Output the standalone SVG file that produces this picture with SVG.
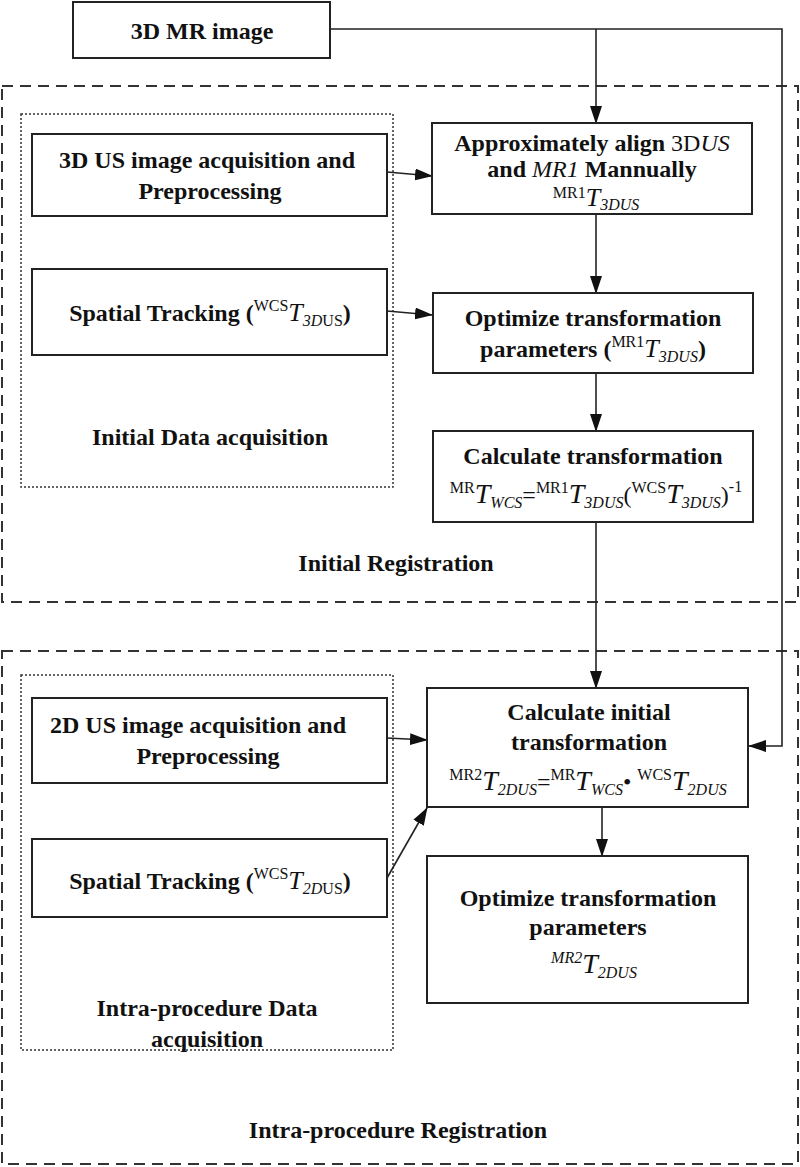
<svg xmlns="http://www.w3.org/2000/svg" width="800" height="1167" viewBox="0 0 800 1167">
<defs>
<marker id="arr" markerWidth="18" markerHeight="12" refX="17" refY="6" orient="auto" markerUnits="userSpaceOnUse">
<path d="M0,0 L18,6 L0,12 Z" fill="#111"/>
</marker>
<style>
.box{fill:#fff;stroke:#222;stroke-width:2}
.dash{fill:none;stroke:#333;stroke-width:2;stroke-dasharray:11 7}
.dot{fill:none;stroke:#333;stroke-width:1.5;stroke-dasharray:2 2}
.ln{fill:none;stroke:#222;stroke-width:1.6}
text{font-family:"Liberation Serif","Times New Roman",serif;fill:#111}
.b{font-weight:bold;font-size:24px}
.n{font-weight:normal}
.i{font-style:italic;font-weight:normal}
.sm{font-size:16px}
.T{font-size:28px}
</style>
</defs>
<rect width="800" height="1167" fill="#fff"/>

<g id="group-initial-registration">
<rect class="dash" x="2" y="86" width="796" height="516"/>
<text class="b" x="396" y="571" text-anchor="middle">Initial Registration</text>
</g>
<g id="group-initial-data">
<rect class="dot" x="21" y="114" width="372" height="373"/>
<text class="b" x="210" y="445" text-anchor="middle">Initial Data acquisition</text>
</g>
<g id="group-intra-registration">
<rect class="dash" x="2" y="651" width="796" height="513"/>
<text class="b" x="398" y="1138" text-anchor="middle">Intra-procedure Registration</text>
</g>
<g id="group-intra-data">
<rect class="dot" x="21" y="675" width="372" height="375"/>
<text class="b" x="207" y="1016" text-anchor="middle">Intra-procedure Data</text>
<text class="b" x="207" y="1047" text-anchor="middle">acquisition</text>
</g>

<g id="connectors">
<polyline class="ln" points="330,29 782,29 782,746 749,746" marker-end="url(#arr)"/>
<line class="ln" x1="596" y1="29" x2="596" y2="123" marker-end="url(#arr)"/>
<line class="ln" x1="387" y1="172" x2="432" y2="176" marker-end="url(#arr)"/>
<line class="ln" x1="387" y1="311" x2="432" y2="315" marker-end="url(#arr)"/>
<line class="ln" x1="596" y1="214" x2="596" y2="293" marker-end="url(#arr)"/>
<line class="ln" x1="596" y1="373" x2="596" y2="431" marker-end="url(#arr)"/>
<line class="ln" x1="596" y1="522" x2="596" y2="688" marker-end="url(#arr)"/>
<line class="ln" x1="387" y1="738" x2="427" y2="740" marker-end="url(#arr)"/>
<line class="ln" x1="387" y1="878" x2="427" y2="808" marker-end="url(#arr)"/>
<line class="ln" x1="602" y1="807" x2="602" y2="856" marker-end="url(#arr)"/>
</g>

<g id="node-3d-mr">
<rect class="box" x="73" y="2" width="257" height="56"/>
<text class="b" x="202" y="39" text-anchor="middle">3D MR image</text>
</g>

<g id="node-3d-us">
<rect class="box" x="32" y="134" width="355" height="82"/>
<text class="b" x="207" y="168" text-anchor="middle">3D US image acquisition and</text>
<text class="b" x="210" y="199" text-anchor="middle">Preprocessing</text>
</g>

<g id="node-spatial-1">
<rect class="box" x="32" y="269" width="355" height="86"/>
<text class="b" x="210" y="321" text-anchor="middle">Spatial Tracking (<tspan class="n sm" dy="-10">WCS</tspan><tspan class="i" font-size="26" dy="10">T</tspan><tspan class="i sm" dy="5">3D</tspan><tspan class="n sm">US</tspan><tspan dy="-5">)</tspan></text>
</g>

<g id="node-approx">
<rect class="box" x="432" y="123" width="320" height="91"/>
<text class="b" x="592" y="151" text-anchor="middle">Approximately align <tspan class="n">3D</tspan><tspan class="i">US</tspan></text>
<text class="b" x="592" y="177" text-anchor="middle">and <tspan class="i">MR1</tspan> Mannually</text>
<text x="596" y="206" text-anchor="middle" font-size="16"><tspan dy="-8">MR1</tspan><tspan class="i" font-size="26" dy="8">T</tspan><tspan class="i" dy="4">3DUS</tspan></text>
</g>

<g id="node-optimize-1">
<rect class="box" x="433" y="293" width="320" height="80"/>
<text class="b" x="593" y="326" text-anchor="middle">Optimize transformation</text>
<text class="b" x="593" y="357" text-anchor="middle">parameters (<tspan class="n sm" dy="-10">MR1</tspan><tspan class="i" font-size="26" dy="10">T</tspan><tspan class="i sm" dy="5">3DUS</tspan><tspan dy="-5">)</tspan></text>
</g>

<g id="node-calc">
<rect class="box" x="433" y="431" width="320" height="91"/>
<text class="b" x="593" y="464" text-anchor="middle">Calculate transformation</text>
<text x="596" y="503" text-anchor="middle" font-size="24"><tspan class="sm" dy="-10">MR</tspan><tspan class="i T" dy="10">T</tspan><tspan class="i sm" dy="5">WCS</tspan><tspan dy="-5">=</tspan><tspan class="sm" dy="-10">MR1</tspan><tspan class="i T" dy="10">T</tspan><tspan class="i sm" dy="5">3DUS</tspan><tspan dy="-5">(</tspan><tspan class="sm" dy="-10">WCS</tspan><tspan class="i T" dy="10">T</tspan><tspan class="i sm" dy="5">3DUS</tspan><tspan dy="-5">)</tspan><tspan class="sm" dy="-11">-1</tspan></text>
</g>

<g id="node-2d-us">
<rect class="box" x="32" y="698" width="355" height="85"/>
<text class="b" x="198" y="733" text-anchor="middle">2D US image acquisition and</text>
<text class="b" x="208" y="764" text-anchor="middle">Preprocessing</text>
</g>

<g id="node-spatial-2">
<rect class="box" x="32" y="839" width="355" height="78"/>
<text class="b" x="210" y="889" text-anchor="middle">Spatial Tracking (<tspan class="n sm" dy="-10">WCS</tspan><tspan class="i" font-size="26" dy="10">T</tspan><tspan class="i sm" dy="5">2D</tspan><tspan class="n sm">US</tspan><tspan dy="-5">)</tspan></text>
</g>

<g id="node-calc-initial">
<rect class="box" x="427" y="688" width="321" height="119"/>
<text class="b" x="589" y="720" text-anchor="middle">Calculate initial</text>
<text class="b" x="589" y="750" text-anchor="middle">transformation</text>
<text x="588" y="790" text-anchor="middle" font-size="24"><tspan class="sm" dy="-10">MR2</tspan><tspan class="i T" dy="10">T</tspan><tspan class="i sm" dy="5">2DUS</tspan><tspan dy="-5">=</tspan><tspan class="sm" dy="-10">MR</tspan><tspan class="i T" dy="10">T</tspan><tspan class="i sm" dy="5">WCS</tspan><tspan dy="-5">• </tspan><tspan class="sm" dy="-10">WCS</tspan><tspan class="i T" dy="10">T</tspan><tspan class="i sm" dy="5">2DUS</tspan></text>
</g>

<g id="node-optimize-2">
<rect class="box" x="427" y="856" width="321" height="147"/>
<text class="b" x="588" y="906" text-anchor="middle">Optimize transformation</text>
<text class="b" x="588" y="935" text-anchor="middle">parameters</text>
<text x="594" y="973" text-anchor="middle"><tspan class="i sm" dy="-10">MR2</tspan><tspan class="i T" dy="10">T</tspan><tspan class="i sm" dy="5">2DUS</tspan></text>
</g>
</svg>
